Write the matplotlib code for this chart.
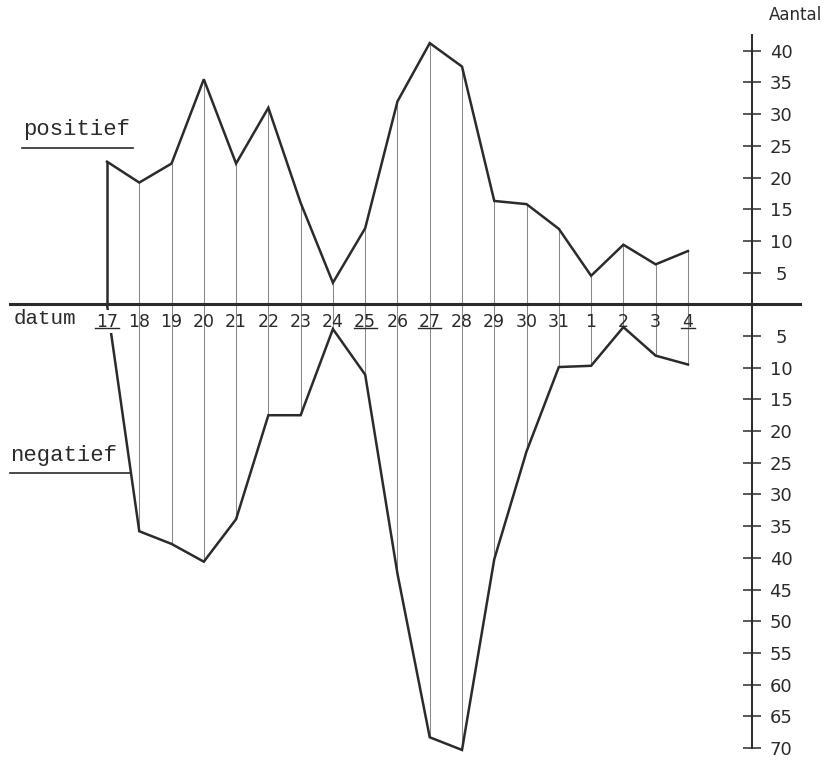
import matplotlib
matplotlib.use("Agg")
import matplotlib.pyplot as plt
import numpy as np

# dates (december -> january) and which ones are underlined in the drawing
dates = ["17", "18", "19", "20", "21", "22", "23", "24", "25", "26",
         "27", "28", "29", "30", "31", "1", "2", "3", "4"]
underlined = ["17", "25", "27", "4"]

# counts
positief = [22.5, 19.2, 22.2, 35.5, 22.2, 31.0, 16.0, 3.4, 12.0, 32.0,
            41.2, 37.5, 16.3, 15.8, 11.9, 4.5, 9.4, 6.3, 8.4]
negatief = [0.0, 35.8, 37.8, 40.6, 33.9, 17.5, 17.5, 3.9, 11.1, 42.5,
            68.3, 70.3, 40.2, 23.2, 9.9, 9.7, 3.6, 8.1, 9.5]

pos_ticks = [5, 10, 15, 20, 25, 30, 35, 40]
neg_ticks = [5, 10, 15, 20, 25, 30, 35, 40, 45, 50, 55, 60, 65, 70]

ink = "#2b2b2b"
thin = "#8a8a8a"

fig = plt.figure(figsize=(8.28, 7.62), dpi=100)
ax = fig.add_axes([0, 0, 1, 1])
ax.set_axisbelow(False)

x = np.arange(len(dates))
pos = np.array(positief)
neg = -np.array(negatief)

# thin vertical line at every date
ax.vlines(x, neg, pos, color=thin, lw=0.75, zorder=1)
# outline
ax.plot(x, pos, color=ink, lw=1.8, solid_joinstyle="miter")
ax.plot(x, neg, color=ink, lw=1.8, solid_joinstyle="miter")
ax.vlines(x[0], 0, pos[0], color=ink, lw=1.8)

ax.set_xlim(-3.315, 22.34)
ax.set_ylim(-72.2, 48.0)

# axes drawn as a cross
ax.spines["top"].set_visible(False)
ax.spines["left"].set_visible(False)
ax.spines["bottom"].set_position(("data", 0))
ax.spines["bottom"].set_bounds(-3.0, 21.47)
ax.spines["bottom"].set_linewidth(2.2)
ax.spines["bottom"].set_color(ink)
ax.spines["right"].set_position(("data", 20))
ax.spines["right"].set_bounds(-70, 42.5)
ax.spines["right"].set_linewidth(1.4)
ax.spines["right"].set_color(ink)

ax.yaxis.tick_right()
yt = [-t for t in neg_ticks[::-1]] + pos_ticks
ax.set_yticks(yt, [str(abs(t)) for t in yt])
ax.tick_params(axis="y", direction="inout", length=13, width=1.1, pad=14,
               labelsize=13, colors=ink)
for tick in ax.yaxis.get_major_ticks():
    tick.label2.set_ha("center")

ax.set_xticks(x, dates)
ax.tick_params(axis="x", length=0, pad=6, labelsize=12.5, colors=ink)
ax.get_xticklabels()[0].set_bbox(dict(fc="white", ec="none", pad=2))

# underline the sundays
for i, d in enumerate(dates):
    if d in underlined:
        hw = 0.1 + 0.13 * len(d)
        ax.plot([i - hw, i + hw], [-3.75, -3.75], color=ink, lw=1.0, zorder=3)

ax.text(-1.92, -2.3, "datum", ha="center", va="center", fontsize=15,
        family="Liberation Mono", color=ink)

ax.text(-0.93, 27.5, "positief", ha="center", va="center", fontsize=16,
        family="Liberation Mono", color=ink)
ax.plot([-2.63, 0.8], [24.7, 24.7], color=ink, lw=1.2)

ax.text(-1.36, -23.9, "negatief", ha="center", va="center", fontsize=16,
        family="Liberation Mono", color=ink)
yline = -26.6
x_end = np.interp(yline, [neg[1], neg[0]], [x[1], x[0]])
ax.plot([-3.0, x_end], [yline, yline], color=ink, lw=1.2)

ax.text(21.34, 45.6, "Aantal", ha="center", va="center", fontsize=12,
        color=ink)

fig.savefig("out.png", dpi=100, facecolor="white")
